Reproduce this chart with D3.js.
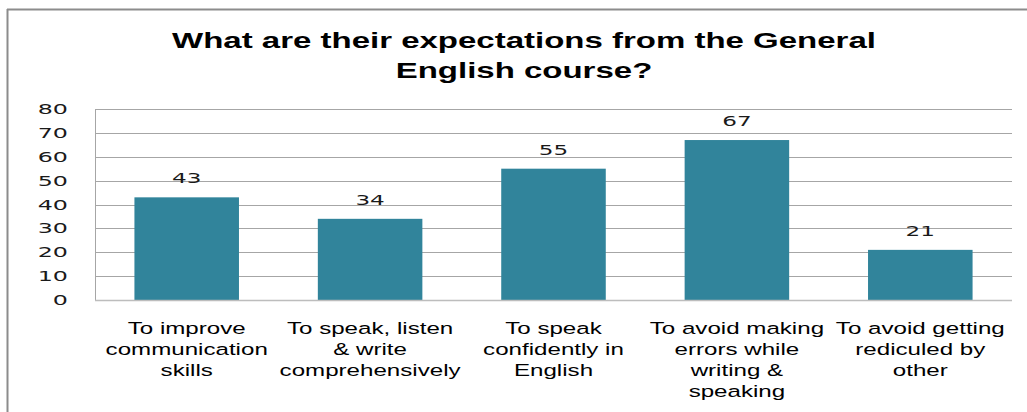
<!DOCTYPE html>
<html>
<head>
    <meta charset="utf-8">
    <title>What are their expectations from the General English course?</title>
    <script type="text/javascript" src="https://cdn.jsdelivr.net/npm/d3@7"></script>
    <style>
        body { margin: 0; background: #fff; }
        .grid line { stroke: #a6a6a6; stroke-width: 1px; }
        .title { font-family: "Liberation Sans", Arial, sans-serif; font-weight: bold; font-size: 22px; fill: #000; }
        .cat { font-family: "Liberation Sans", Arial, sans-serif; font-size: 17px; fill: #000; }
        .num { font-family: "DejaVu Sans", Verdana, sans-serif; font-size: 14px; fill: #1a1a1a; }
    </style>
</head>
<body>
<script type="text/javascript">
    var width = 1027,
            height = 412;

    // data
    var categories = [
        "To improve communication skills",
        "To speak, listen & write comprehensively",
        "To speak confidently in English",
        "To avoid making errors while writing & speaking",
        "To avoid getting rediculed by other"
    ];
    var categoryLines = [
        ["To improve", "communication", "skills"],
        ["To speak, listen", "& write", "comprehensively"],
        ["To speak", "confidently in", "English"],
        ["To avoid making", "errors while", "writing &", "speaking"],
        ["To avoid getting", "rediculed by", "other"]
    ];
    var values = [43, 34, 55, 67, 21];
    var yTicks = [0, 10, 20, 30, 40, 50, 60, 70, 80];
    var titleLines = ["What are their expectations from the General", "English course?"];

    var plot = {left: 95, right: 1012, top: 109, bottom: 300};
    var barColor = "#31849b";

    var svg = d3.select("body").append("svg")
            .attr("width", width)
            .attr("height", height);

    // outer frame (top and left edges visible)
    svg.append("line")
            .attr("x1", 7).attr("x2", width)
            .attr("y1", 9.5).attr("y2", 9.5)
            .attr("stroke", "#8c8c8c").attr("stroke-width", 2);
    svg.append("line")
            .attr("x1", 7.5).attr("x2", 7.5)
            .attr("y1", 9).attr("y2", height)
            .attr("stroke", "#8c8c8c").attr("stroke-width", 2);

    var x = d3.scaleBand()
            .domain(categories)
            .range([plot.left, plot.right])
            .paddingInner(0.43)
            .paddingOuter(0.215);

    var y = d3.scaleLinear()
            .domain([0, 80])
            .range([plot.bottom, plot.top]);

    // stretched text helper, the source picture is wider than it is tall
    function stretched(sel, sx) {
        sel.attr("transform", function (d) {
            var p = this.__pos;
            return "translate(" + p[0] + "," + p[1] + ") scale(" + sx + ",1)";
        });
    }

    // gridlines
    svg.append("g")
            .attr("class", "grid")
            .selectAll("line")
            .data(yTicks.filter(function (t) { return t > 0; }))
            .enter().append("line")
            .attr("x1", plot.left).attr("x2", plot.right)
            .attr("y1", function (d) { return Math.round(y(d)) + 0.5; })
            .attr("y2", function (d) { return Math.round(y(d)) + 0.5; });

    // y axis line and tick labels
    svg.append("line")
            .attr("x1", plot.left + 0.5).attr("x2", plot.left + 0.5)
            .attr("y1", plot.top).attr("y2", plot.bottom)
            .attr("stroke", "#a6a6a6");

    svg.append("g").selectAll("text")
            .data(yTicks)
            .enter().append("text")
            .attr("class", "num")
            .attr("text-anchor", "end")
            .attr("dy", "0.36em")
            .each(function (d) { this.__pos = [68, y(d)]; })
            .text(function (d) { return d; })
            .call(stretched, 1.7);

    // bars
    svg.append("g").selectAll("rect")
            .data(values)
            .enter().append("rect")
            .attr("x", function (d, i) { return x(categories[i]); })
            .attr("width", x.bandwidth())
            .attr("y", function (d) { return y(d); })
            .attr("height", function (d) { return y(0) - y(d); })
            .attr("fill", barColor);

    // x axis line
    svg.append("line")
            .attr("x1", plot.left).attr("x2", plot.right)
            .attr("y1", plot.bottom + 0.5).attr("y2", plot.bottom + 0.5)
            .attr("stroke", "#bdbdbd").attr("stroke-width", 1.5);

    // value labels
    svg.append("g").selectAll("text")
            .data(values)
            .enter().append("text")
            .attr("class", "num")
            .attr("text-anchor", "middle")
            .each(function (d, i) { this.__pos = [x(categories[i]) + x.bandwidth() / 2, y(d) - 14]; })
            .text(function (d) { return d; })
            .call(stretched, 1.65);

    // category labels
    var catG = svg.append("g").selectAll("g")
            .data(categoryLines)
            .enter().append("g");

    catG.selectAll("text")
            .data(function (d, i) {
                return d.map(function (line, j) {
                    return {line: line, j: j, cx: x(categories[i]) + x.bandwidth() / 2};
                });
            })
            .enter().append("text")
            .attr("class", "cat")
            .attr("text-anchor", "middle")
            .each(function (d) { this.__pos = [d.cx, 334 + d.j * 21]; })
            .text(function (d) { return d.line; })
            .call(stretched, 1.42);

    // title
    svg.append("g").selectAll("text")
            .data(titleLines)
            .enter().append("text")
            .attr("class", "title")
            .attr("text-anchor", "middle")
            .each(function (d, i) { this.__pos = [524, 48 + i * 30]; })
            .text(function (d) { return d; })
            .call(stretched, 1.5);
</script>
</body>
</html>
